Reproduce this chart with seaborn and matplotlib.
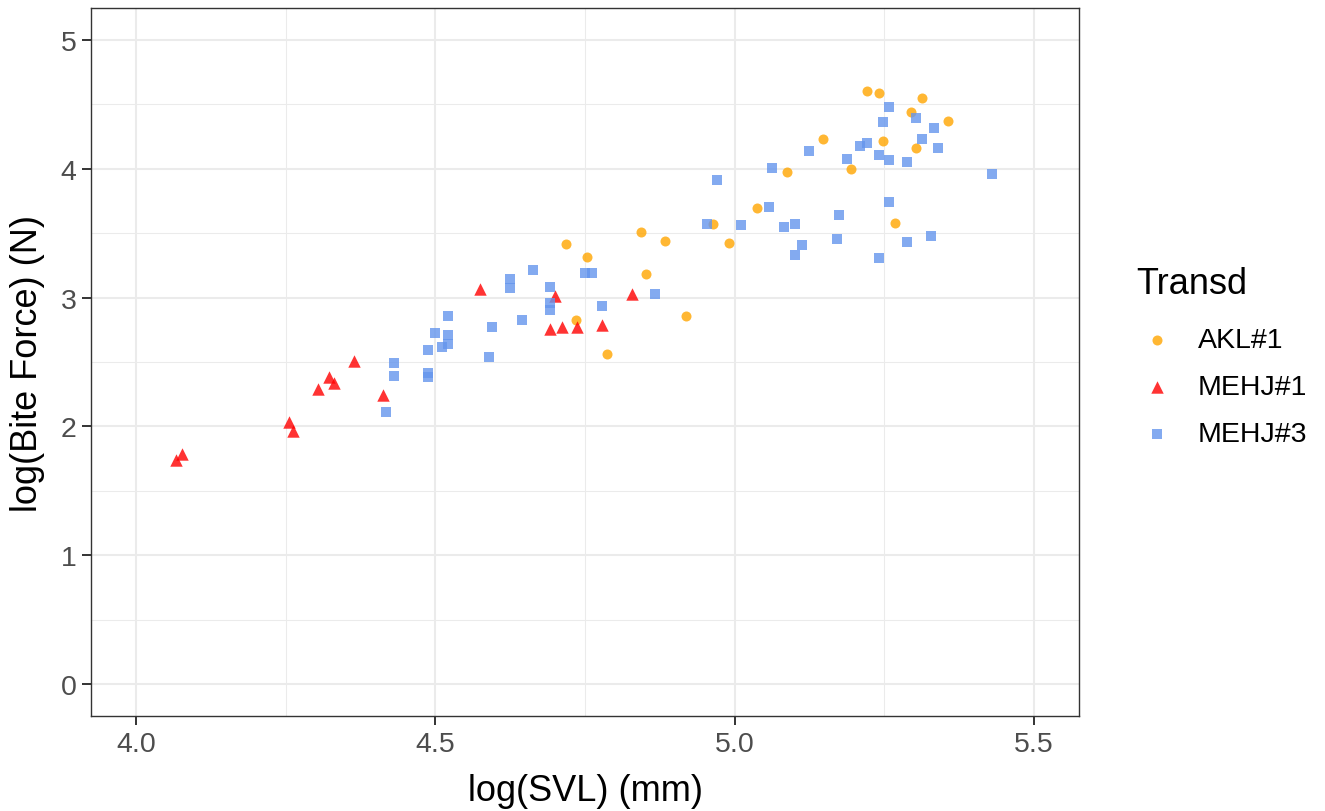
import pandas as pd
import seaborn as sns
import matplotlib
matplotlib.use('Agg')
import matplotlib.pyplot as plt
from matplotlib.ticker import MultipleLocator

# values
groups = ['AKL#1', 'MEHJ#1', 'MEHJ#3']

svl_akl = [4.718, 4.753, 4.735, 4.787, 4.844, 4.884, 4.852, 4.918, 4.990, 4.964, 5.037,
           5.087, 5.147, 5.221, 5.241, 5.313, 5.295, 5.356, 5.248, 5.303, 5.194, 5.268]
bite_akl = [3.417, 3.317, 2.828, 2.564, 3.510, 3.440, 3.184, 2.858, 3.425, 3.573, 3.697,
            3.976, 4.232, 4.604, 4.589, 4.550, 4.441, 4.372, 4.216, 4.162, 3.999, 3.580]

svl_m1 = [4.066, 4.077, 4.255, 4.262, 4.304, 4.322, 4.330, 4.364, 4.412, 4.574, 4.699,
          4.691, 4.711, 4.736, 4.779, 4.828]
bite_m1 = [1.742, 1.788, 2.036, 1.967, 2.292, 2.385, 2.339, 2.510, 2.246, 3.064, 3.010,
           2.754, 2.769, 2.769, 2.785, 3.025]

svl_m3 = [4.417, 4.431, 4.431, 4.488, 4.488, 4.488, 4.499, 4.511, 4.521, 4.521, 4.521,
          4.589, 4.594, 4.625, 4.625, 4.645, 4.663, 4.691, 4.691, 4.691, 4.750, 4.761,
          4.778, 4.867, 4.971, 4.954, 5.010, 5.057, 5.062, 5.124, 5.083, 5.101, 5.112,
          5.101, 5.174, 5.171, 5.258, 5.248, 5.303, 5.333, 5.313, 5.339, 5.221, 5.209,
          5.187, 5.241, 5.258, 5.288, 5.430, 5.258, 5.288, 5.328, 5.241]
bite_m3 = [2.114, 2.494, 2.393, 2.595, 2.417, 2.386, 2.722, 2.614, 2.855, 2.708, 2.638,
           2.537, 2.769, 3.142, 3.072, 2.824, 3.216, 3.084, 2.960, 2.906, 3.192, 3.192,
           2.936, 3.029, 3.914, 3.573, 3.565, 3.704, 4.007, 4.139, 3.549, 3.573, 3.410,
           3.332, 3.642, 3.456, 4.480, 4.364, 4.395, 4.318, 4.232, 4.162, 4.201, 4.178,
           4.077, 4.108, 4.069, 4.054, 3.960, 3.743, 3.433, 3.479, 3.309]

x_ticks = [4.0, 4.5, 5.0, 5.5]
x_labels = ['4.0', '4.5', '5.0', '5.5']
y_ticks = [0, 1, 2, 3, 4, 5]

df = pd.concat([
    pd.DataFrame({'svl': svl_akl, 'bite': bite_akl, 'Transd': 'AKL#1'}),
    pd.DataFrame({'svl': svl_m1, 'bite': bite_m1, 'Transd': 'MEHJ#1'}),
    pd.DataFrame({'svl': svl_m3, 'bite': bite_m3, 'Transd': 'MEHJ#3'}),
])

sns.set_style('white')
plt.rcParams['font.family'] = ['Liberation Sans', 'DejaVu Sans']

palette = {'AKL#1': '#FFA500', 'MEHJ#1': '#FF0000', 'MEHJ#3': '#6495ED'}
markers = {'AKL#1': 'o', 'MEHJ#1': '^', 'MEHJ#3': 's'}
sizes = {'AKL#1': 52, 'MEHJ#1': 80, 'MEHJ#3': 58}

fig = plt.figure(figsize=(13.25, 8.12), dpi=100)
ax = fig.add_axes([0.0689, 0.1166, 0.7454, 0.8727])

for g in groups:
    sns.scatterplot(data=df[df['Transd'] == g], x='svl', y='bite', color=palette[g],
                    marker=markers[g], s=sizes[g], alpha=0.8, linewidth=0,
                    label=g, ax=ax)

ax.set_xlim(3.925, 5.575)
ax.set_ylim(-0.25, 5.25)
ax.set_xticks(x_ticks)
ax.set_xticklabels(x_labels)
ax.set_yticks(y_ticks)
ax.xaxis.set_minor_locator(MultipleLocator(0.25))
ax.yaxis.set_minor_locator(MultipleLocator(0.5))

ax.set_axisbelow(True)
ax.grid(which='major', color='#EBEBEB', linewidth=1.5)
ax.grid(which='minor', color='#EBEBEB', linewidth=0.75)
for s in ax.spines.values():
    s.set_color('#333333')
    s.set_linewidth(1.0)
ax.tick_params(which='major', length=6.5, width=1.4, color='#333333',
               labelsize=20.5, labelcolor='#4D4D4D', pad=4, left=True, bottom=True)
ax.tick_params(which='minor', length=0)

ax.set_xlabel('log(SVL) (mm)', fontsize=26, color='black')
ax.set_ylabel('log(Bite Force) (N)', fontsize=26, color='black')
ax.xaxis.set_label_coords(0.5, -0.08)
ax.yaxis.set_label_coords(-0.047, 0.5)

leg = ax.legend(title='Transd', loc='upper left', bbox_to_anchor=(0.847, 0.689),
                bbox_transform=fig.transFigure, frameon=False, fontsize=20.5,
                title_fontsize=26, handlelength=1.45, handletextpad=0.7,
                labelspacing=0.74, borderpad=0, alignment='left', labelcolor='black')
leg.get_title().set_color('black')
# a bit more room between the title and the entries
leg._legend_box.sep = 19

fig.savefig('out.png', dpi=100)
